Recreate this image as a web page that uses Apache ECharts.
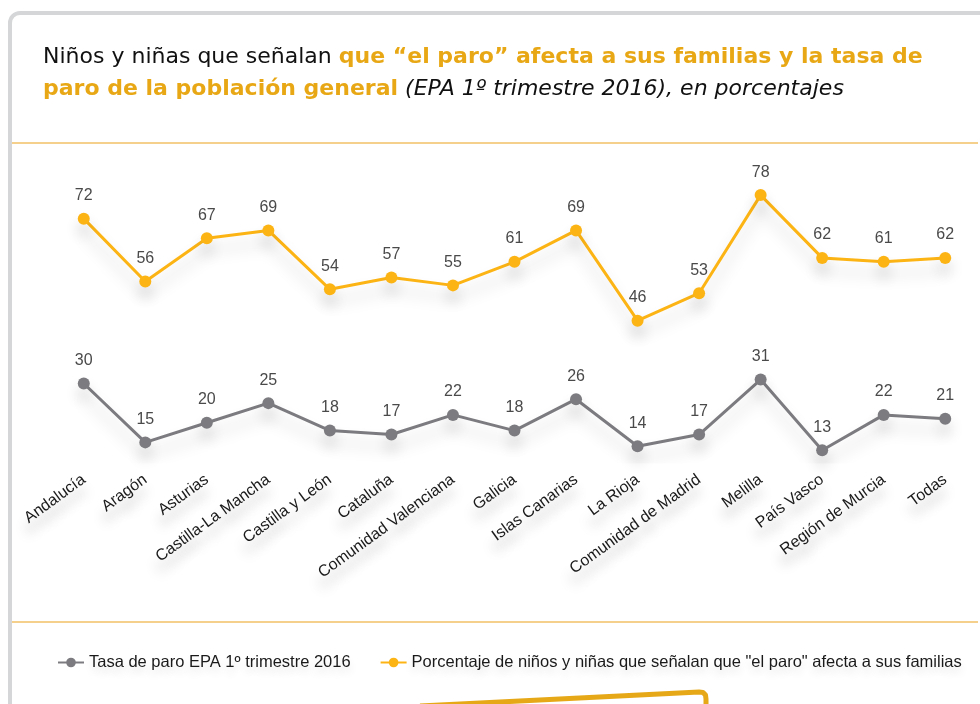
<!DOCTYPE html>
<html>
<head>
<meta charset="utf-8">
<script src="https://cdn.jsdelivr.net/npm/echarts@6/dist/echarts.min.js"></script>
<style>
  html, body { margin: 0; padding: 0; background: #fff; }
  #chart { width: 980px; height: 704px; }
</style>
</head>
<body>
<div id="chart"></div>
<script>
// comunidades autónomas
var regiones = [
  'Andalucía', 'Aragón', 'Asturias', 'Castilla-La Mancha', 'Castilla y León',
  'Cataluña', 'Comunidad Valenciana', 'Galicia', 'Islas Canarias', 'La Rioja',
  'Comunidad de Madrid', 'Melilla', 'País Vasco', 'Región de Murcia', 'Todas'
];
// tasa de paro EPA 1º trimestre 2016
var tasaParo = [30, 15, 20, 25, 18, 17, 22, 18, 26, 14, 17, 31, 13, 22, 21];
// niños y niñas que señalan que "el paro" afecta a sus familias
var ninosParo = [72, 56, 67, 69, 54, 57, 55, 61, 69, 46, 53, 78, 62, 61, 62];

var nombreTasa = 'Tasa de paro EPA 1º trimestre 2016';
var nombreNinos = 'Porcentaje de niños y niñas que señalan que "el paro" afecta a sus familias';

var fuente = '"Liberation Sans", Arial, Helvetica, sans-serif';
var fuenteTitulo = '"DejaVu Sans", "Liberation Sans", sans-serif';
var naranja = '#e8a815';
var amarillo = '#fcb415';
var gris = '#7c7c80';

function serie(nombre, datos, color) {
  return {
    name: nombre,
    type: 'line',
    data: datos,
    symbol: 'circle',
    symbolSize: 12,
    color: color,
    lineStyle: {
      width: 3,
      color: color,
      shadowColor: 'rgba(0,0,0,0.2)',
      shadowBlur: 16,
      shadowOffsetY: 12
    },
    itemStyle: {
      color: color,
      shadowColor: 'rgba(0,0,0,0.16)',
      shadowBlur: 14,
      shadowOffsetY: 10
    },
    label: {
      show: true,
      position: 'top',
      distance: 9,
      fontFamily: fuente,
      fontSize: 16,
      color: '#4a4a4a'
    },
    emphasis: { disabled: true }
  };
}

var option = {
  backgroundColor: '#fff',
  animation: false,
  title: {
    left: 38,
    top: 36,
    text: 'Niños y niñas que señalan {o|que “el paro” afecta a sus familias y la tasa de}\n' +
      '{o|paro de la población general} {i|(EPA 1º trimestre 2016), en porcentajes}',
    textStyle: {
      fontFamily: fuenteTitulo,
      fontSize: 22,
      color: '#111',
      fontWeight: 'normal',
      lineHeight: 32,
      rich: {
        o: { fontFamily: fuenteTitulo, fontSize: 22, fontWeight: 'bold', color: naranja, lineHeight: 32 },
        i: { fontFamily: fuenteTitulo, fontSize: 22, fontStyle: 'italic', color: '#111', lineHeight: 32 }
      }
    }
  },
  graphic: [
    {
      type: 'rect',
      shape: { x: 10, y: 13, width: 1000, height: 760, r: 10 },
      style: { fill: 'none', stroke: '#d5d6d8', lineWidth: 4 },
      silent: true
    },
    {
      type: 'line',
      shape: { x1: 12, y1: 143, x2: 978, y2: 143 },
      style: { stroke: '#f4d08c', lineWidth: 2 },
      silent: true
    },
    {
      type: 'line',
      shape: { x1: 12, y1: 622, x2: 978, y2: 622 },
      style: { stroke: '#f4d08c', lineWidth: 2 },
      silent: true
    },
    {
      type: 'polyline',
      shape: { points: [[420, 706], [699, 692], [703, 692.4], [705.5, 695], [706, 699], [706, 712]] },
      style: { fill: null, stroke: '#e6a817', lineWidth: 5, lineJoin: 'round' },
      silent: true
    }
  ],
  legend: {
    left: 52,
    top: 649,
    itemWidth: 26,
    itemHeight: 12,
    itemGap: 29,
    data: [nombreTasa, nombreNinos],
    textStyle: {
      fontFamily: fuente,
      fontSize: 16.5,
      color: '#1a1a1a',
      textShadowColor: 'rgba(0,0,0,0.12)',
      textShadowBlur: 8,
      textShadowOffsetY: 6
    }
  },
  grid: {
    left: 53,
    right: 4,
    top: 148,
    bottom: 242
  },
  xAxis: {
    type: 'category',
    data: regiones,
    boundaryGap: true,
    axisLine: { show: false },
    axisTick: { show: false },
    splitLine: { show: false },
    axisLabel: {
      interval: 0,
      rotate: 36,
      margin: 16,
      fontFamily: fuente,
      fontSize: 16,
      color: '#1a1a1a',
      textShadowColor: 'rgba(0,0,0,0.25)',
      textShadowBlur: 12,
      textShadowOffsetY: 12
    }
  },
  yAxis: {
    type: 'value',
    min: 10,
    max: 90,
    show: false,
    splitLine: { show: false }
  },
  series: [
    serie(nombreTasa, tasaParo, gris),
    serie(nombreNinos, ninosParo, amarillo)
  ]
};

var chart = echarts.init(document.getElementById('chart'), null, { renderer: 'canvas' });
chart.setOption(option);
</script>
</body>
</html>
